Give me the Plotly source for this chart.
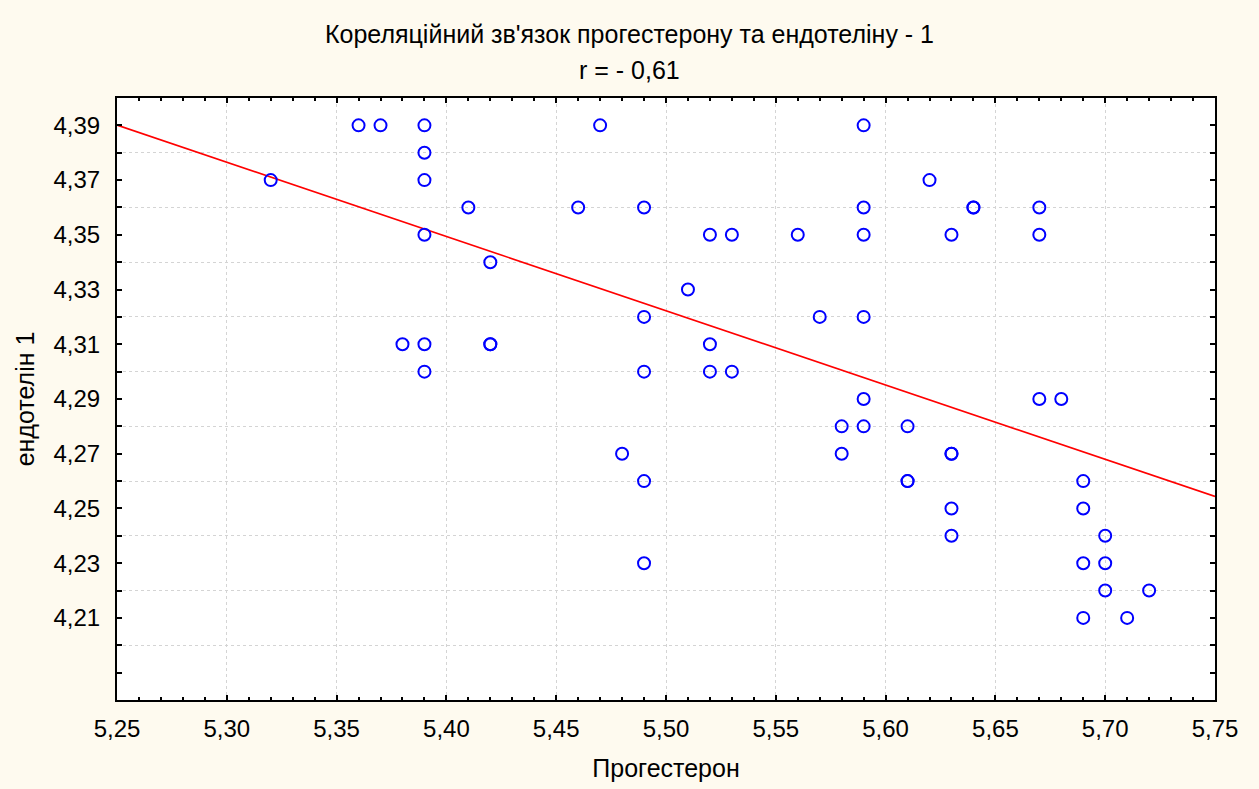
import plotly.graph_objects as go

# Data
progesterone = [5.32, 5.36, 5.37, 5.39, 5.39, 5.39, 5.39, 5.41, 5.42,
                5.38, 5.39, 5.39, 5.42, 5.42, 5.46, 5.47, 5.49, 5.49, 5.49,
                5.48, 5.49, 5.49, 5.51, 5.52, 5.53, 5.52, 5.52, 5.53,
                5.56, 5.57, 5.59, 5.59, 5.59, 5.59, 5.59, 5.59, 5.58, 5.58,
                5.61, 5.61, 5.61, 5.62, 5.63, 5.64, 5.64, 5.63, 5.63, 5.63, 5.63,
                5.67, 5.67, 5.67, 5.68, 5.69, 5.69, 5.70, 5.69, 5.70,
                5.70, 5.72, 5.69, 5.71]
endothelin = [4.37, 4.39, 4.39, 4.39, 4.38, 4.37, 4.35, 4.36, 4.34,
              4.31, 4.31, 4.30, 4.31, 4.31, 4.36, 4.39, 4.36, 4.32, 4.30,
              4.27, 4.26, 4.23, 4.33, 4.35, 4.35, 4.31, 4.30, 4.30,
              4.35, 4.32, 4.39, 4.36, 4.35, 4.32, 4.29, 4.28, 4.28, 4.27,
              4.28, 4.26, 4.26, 4.37, 4.35, 4.36, 4.36, 4.27, 4.27, 4.25, 4.24,
              4.36, 4.35, 4.29, 4.29, 4.26, 4.25, 4.24, 4.23, 4.23,
              4.22, 4.22, 4.21, 4.21]

# Regression line endpoints
fit_x = [5.25, 5.75]
fit_y = [4.3901, 4.2544]

x_ticks = [5.25, 5.30, 5.35, 5.40, 5.45, 5.50, 5.55, 5.60, 5.65, 5.70, 5.75]
y_ticks = [4.19, 4.21, 4.23, 4.25, 4.27, 4.29, 4.31, 4.33, 4.35, 4.37, 4.39]
y_grid = [4.20, 4.22, 4.24, 4.26, 4.28, 4.30, 4.32, 4.34, 4.36, 4.38]

title_text = "Кореляційний зв'язок прогестерону та ендотеліну - 1"
subtitle_text = "r = - 0,61"
x_title = "Прогестерон"
y_title = "ендотелін 1"

FONT = "Liberation Sans, Arial, sans-serif"
GRID = "#D4D4D4"

def fmt(v):
    return f"{v:.2f}".replace(".", ",")

fig = go.Figure()
fig.add_trace(go.Scatter(
    x=fit_x, y=fit_y, mode="lines",
    line=dict(color="#FF0000", width=1.6),
    hoverinfo="skip", showlegend=False))
fig.add_trace(go.Scatter(
    x=progesterone, y=endothelin, mode="markers",
    marker=dict(symbol="circle-open", size=12, color="#0000FF",
                line=dict(width=2, color="#0000FF")),
    showlegend=False))

fig.update_layout(
    width=1259, height=789,
    margin=dict(l=117, r=44, t=98, b=89),
    paper_bgcolor="#FEFAEF",
    plot_bgcolor="#FFFFFF",
    font=dict(family=FONT, size=24, color="#000000"),
    title=dict(text=title_text, x=0.5, xanchor="center",
               y=1 - 34 / 789, yanchor="middle", yref="container",
               font=dict(family=FONT, size=25, color="#000000")),
    annotations=[dict(text=subtitle_text, x=(629.5 - 117) / 1098, xref="paper",
                      xanchor="center", y=(700 - 70) / 602, yref="paper",
                      yanchor="middle", showarrow=False,
                      font=dict(family=FONT, size=25, color="#000000"))],
    xaxis=dict(
        range=[5.25, 5.75], tickmode="array", tickvals=x_ticks,
        ticktext=[fmt(v) for v in x_ticks],
        showgrid=True, gridcolor=GRID, griddash="dot", gridwidth=1,
        ticks="inside", ticklen=5, tickwidth=1.5, tickcolor="#000000",
        minor=dict(dtick=0.01, tick0=5.25, ticks="inside", ticklen=3,
                   tickwidth=1.5, tickcolor="#000000", showgrid=False),
        showline=True, linecolor="#000000", linewidth=2, mirror="ticks",
        zeroline=False, ticklabelstandoff=6,
        tickfont=dict(family=FONT, size=24),
        title=dict(text=x_title, standoff=19,
                   font=dict(family=FONT, size=25))),
    yaxis=dict(
        range=[4.18, 4.40], tickmode="array", tickvals=y_ticks,
        ticktext=["" if v < 4.20 else fmt(v) for v in y_ticks],
        showgrid=False,
        ticks="inside", ticklen=5, tickwidth=1.5, tickcolor="#000000",
        minor=dict(tickmode="array", tickvals=y_grid, ticks="inside",
                   ticklen=5, tickwidth=1.5, tickcolor="#000000",
                   showgrid=True, gridcolor=GRID, griddash="dot",
                   gridwidth=1),
        showline=True, linecolor="#000000", linewidth=2, mirror="ticks",
        zeroline=False, ticklabelstandoff=10,
        tickfont=dict(family=FONT, size=24),
        title=dict(text=y_title, standoff=12,
                   font=dict(family=FONT, size=25))),
)

fig.write_html("out.html")
